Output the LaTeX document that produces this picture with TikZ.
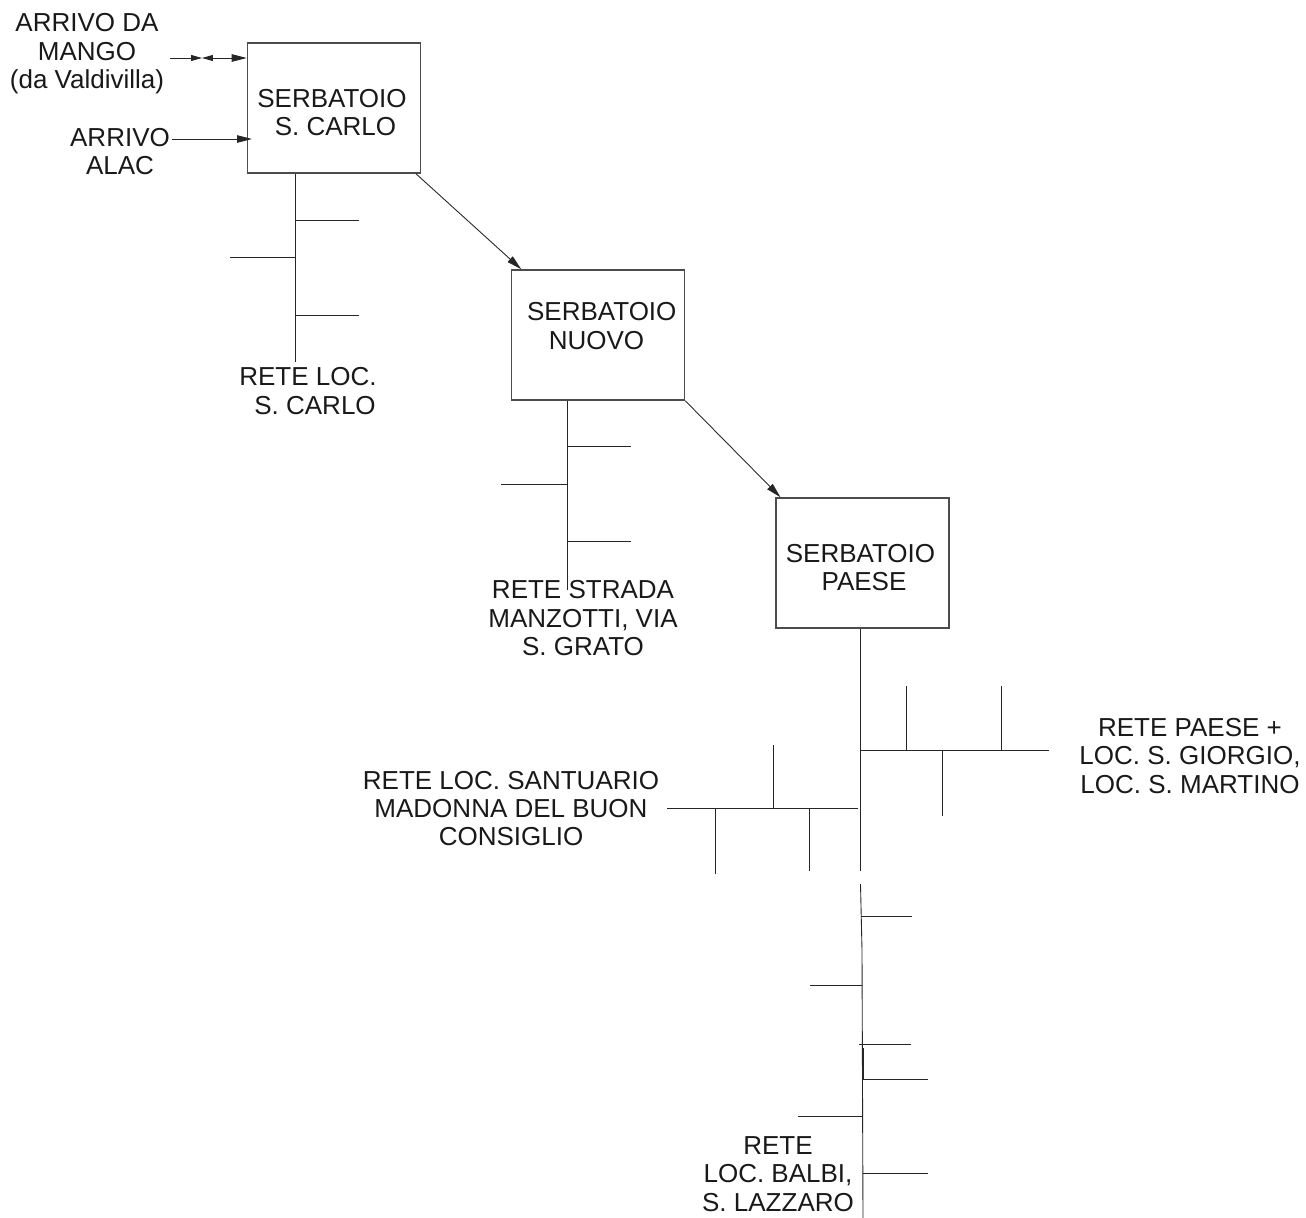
\documentclass[tikz,border=0pt]{standalone}
\usepackage{fontspec}
\setmainfont{Liberation Sans}
\usetikzlibrary{arrows.meta}

\begin{document}
\begin{tikzpicture}[
  x=0.02cm, y=-0.02cm,
  tank/.style={draw=black!70, line width=0.9pt, minimum width=3.46cm, minimum height=2.6cm, inner sep=0pt},
  caption/.style={align=center, inner sep=0pt, text=black!90, font=\fontsize{14.8}{16.2}\selectfont},
  pipe/.style={draw=black!85, line width=0.5pt},
  feed/.style={pipe, -{Triangle[length=0.3cm, width=0.15cm]}},
  valvetip/.style={pipe, -{Triangle[length=0.22cm, width=0.12cm]}}
]
  \useasboundingbox (0,0) rectangle (1306,1218);

  % tanks
  \node[tank] (tankCarlo) at (334,108) {};
  \node[tank] (tankNuovo) at (598,335) {};
  \node[tank] (tankPaese) at (862.5,563) {};
  \node[caption] (capCarlo) at (332,112.5) {SERBATOIO\\\hspace{4pt}S. CARLO};
  \node[caption] (capNuovo) at (596.5,326) {\hspace{6pt}SERBATOIO\\NUOVO\hspace{18pt}};
  \node[caption] (capPaese) at (860.5,567.5) {SERBATOIO\\\hspace{4pt}PAESE};

  % texts
  \node[caption] (capMango) at (87,54) {ARRIVO DA\\MANGO\\(da Valdivilla)};
  \node[caption] (capAlac) at (120,151.5) {ARRIVO\\ALAC};
  \node[caption] (capNetCarlo) at (308,391) {RETE LOC.\\\hspace{8pt}S. CARLO};
  \node[caption] (capNetNuovo) at (583,618.5) {RETE STRADA\\MANZOTTI, VIA\\S. GRATO};
  \node[caption] (capNetPaese) at (1190,756) {RETE PAESE +\\LOC. S. GIORGIO,\\LOC. S. MARTINO};
  \node[caption] (capNetSantuario) at (511,808.5) {RETE LOC. SANTUARIO\\MADONNA DEL BUON\\CONSIGLIO};
  \node[caption] (capNetBalbi) at (778,1174) {RETE\\LOC. BALBI,\\S. LAZZARO};

  % free ends of the lines
  \foreach \nm/\px/\py in {
    mangoIn/170/58, valveM/202/58, valveR/214/58, alacIn/172/139,
    a0/295/173, a1/295/220, a2/359/220, a3/230/257, a4/295/257, a5/295/315, a6/359/315, a7/295/362,
    b0/567/400, b1/567/446, b2/631/446, b3/501/484, b4/567/484, b5/567/541, b6/631/541, b7/567/590,
    c0/860/628, c1/860/871, c2/860/750, c3/1049/750, c4/906/686, c5/906/750, c6/1001/686, c7/1001/750,
    c8/942/750, c9/942/816, d0/667/808, d1/858/808, d2/773/745, d3/773/808, d4/715/808, d5/715/874,
    d6/809/808, d7/809/871,
    e0/860.5/884, e1/862/950, e2/863/1218, e3/861/916, e4/912/916, e5/810/985, e6/862/985,
    e7/859/1044, e8/911/1044, e9/864/1079, e10/928/1079, e11/798/1116, e12/863/1116,
    e13/863/1173, e14/928/1173, e15/863.5/1048, e16/863.5/1080}
    \coordinate (\nm) at (\px,\py);

  % inlets
  \draw[valvetip] (mangoIn) -- (valveM);
  \draw[valvetip] (valveR) -- (valveM);
  \draw[feed] (valveR) -- (tankCarlo.west |- valveR);
  \draw[feed] (alacIn) -- ([xshift=3]tankCarlo.west |- alacIn);

  % tank to tank
  \draw[feed] ([xshift=-3]tankCarlo.south east) -- ([xshift=6]tankNuovo.north west);
  \draw[feed] (tankNuovo.south east) -- ([xshift=3]tankPaese.north west);

  % networks
  \draw[pipe] (tankCarlo.south -| a0) -- (a7);
  \draw[pipe] (tankNuovo.south -| b0) -- (b7);
  \draw[pipe] (tankPaese.south -| c0) -- (c1);
  \foreach \from/\to in {a1/a2, a3/a4, a5/a6, b1/b2, b3/b4, b5/b6, c2/c3, c4/c5, c6/c7, c8/c9,
    d0/d1, d2/d3, d4/d5, d6/d7, e3/e4, e5/e6, e7/e8, e9/e10, e11/e12, e13/e14}
    \draw[pipe] (\from) -- (\to);
  \draw[pipe] (e0) -- (e1) -- (e2);
  \draw[pipe, line width=0.9pt] (e15) -- (e16);
\end{tikzpicture}
\end{document}
